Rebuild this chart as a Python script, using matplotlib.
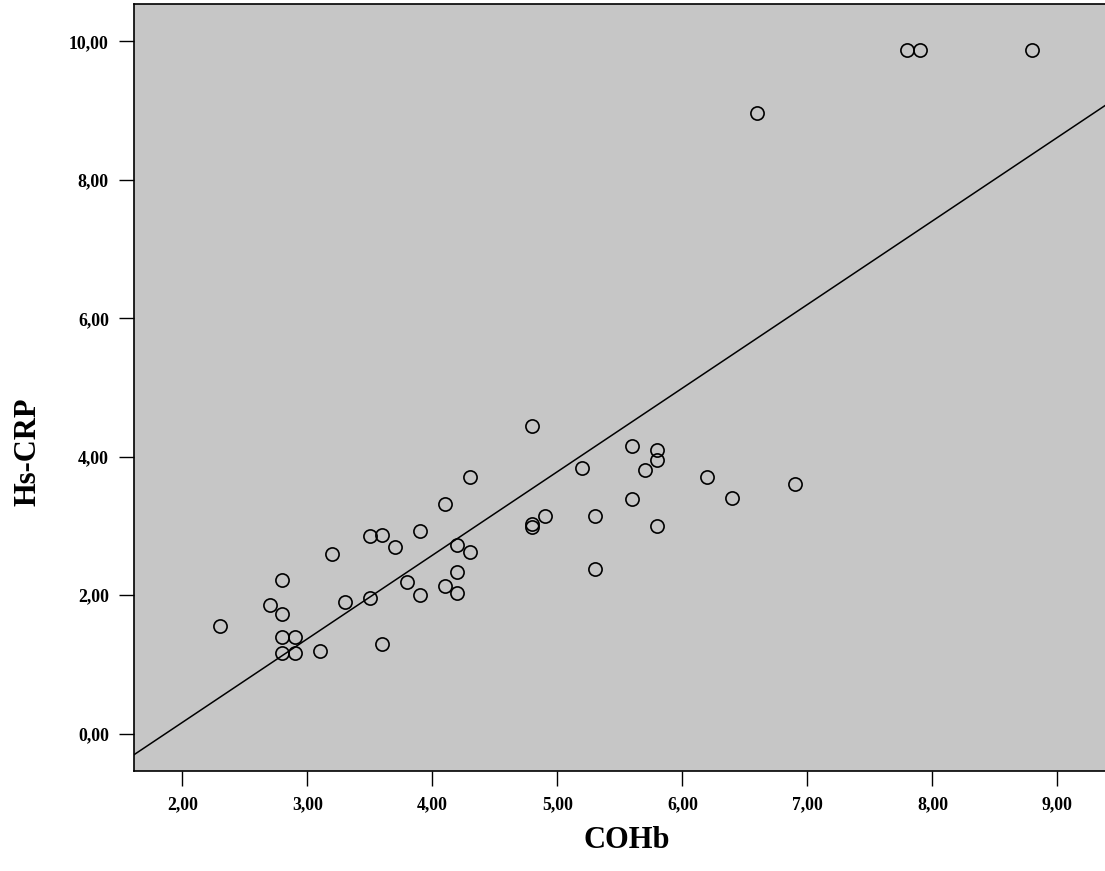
import numpy as np
import matplotlib
matplotlib.use("Agg")
import matplotlib.pyplot as plt

# Data
cohb = [2.3, 2.7, 2.8, 2.8, 2.8, 2.9, 2.8, 2.9, 3.1, 3.2, 3.3, 3.5, 3.6, 3.7, 3.9,
        3.5, 3.6, 3.8, 3.9, 4.2, 4.3, 4.2, 4.1, 4.2,
        4.8, 4.3, 4.1, 5.2, 5.6, 5.8, 5.8, 5.7, 6.2, 5.6, 4.9, 4.8, 4.8, 5.3, 5.8, 5.3,
        6.4, 6.9,
        6.6, 7.8, 7.9, 8.8]
hscrp = [1.56, 1.86, 2.22, 1.73, 1.39, 1.40, 1.17, 1.17, 1.20, 2.60, 1.90, 2.86, 2.87, 2.70, 2.93,
         1.96, 1.29, 2.19, 2.00, 2.72, 2.62, 2.33, 2.13, 2.03,
         4.44, 3.70, 3.32, 3.84, 4.16, 4.10, 3.95, 3.81, 3.70, 3.39, 3.14, 3.03, 2.99, 3.15, 3.00, 2.38,
         3.40, 3.61,
         8.96, 9.88, 9.88, 9.88]

xticks = [2, 3, 4, 5, 6, 7, 8, 9]
yticks = [0, 2, 4, 6, 8, 10]
xlim = (1.613, 9.38)
ylim = (-0.54, 10.54)

def fmt(v):
    return f"{v:.2f}".replace(".", ",")

fig = plt.figure(figsize=(11.05, 8.71), dpi=100)
ax = fig.add_axes([134/1105, 100/871, (1105-134)/1105, 767/871])
ax.set_facecolor("#c6c6c6")

# Fit line (least squares through the data)
slope, intercept = np.polyfit(cohb, hscrp, 1)
xl = np.array(xlim)
ax.plot(xl, slope*xl + intercept, color="black", lw=1.1, zorder=2)

ax.plot(cohb, hscrp, linestyle="none", marker="o", markersize=9.5,
        markerfacecolor="none", markeredgecolor="black", markeredgewidth=1.2, zorder=3)

ax.set_xlim(*xlim)
ax.set_ylim(*ylim)
ax.set_xticks(xticks)
ax.set_yticks(yticks)
ax.set_xticklabels([fmt(v) for v in xticks])
ax.set_yticklabels([fmt(v) for v in yticks])

for s in ["left", "bottom", "top"]:
    ax.spines[s].set_linewidth(1.2)
ax.spines["right"].set_visible(False)

ax.tick_params(direction="out", length=11, width=1.0, pad=7, colors="black")
for lab in ax.get_xticklabels() + ax.get_yticklabels():
    lab.set_fontfamily("Liberation Serif")
    lab.set_fontweight("bold")
    lab.set_fontsize(12.8)

fig.text(627/1105, 1 - 840/871, "COHb", ha="center", va="center",
         fontfamily="Liberation Serif", fontweight="bold", fontsize=22)
fig.text(28/1105, 1 - 452/871, "Hs-CRP", ha="center", va="center", rotation=90,
         fontfamily="Liberation Serif", fontweight="bold", fontsize=22)

fig.savefig("out.png", dpi=100)
